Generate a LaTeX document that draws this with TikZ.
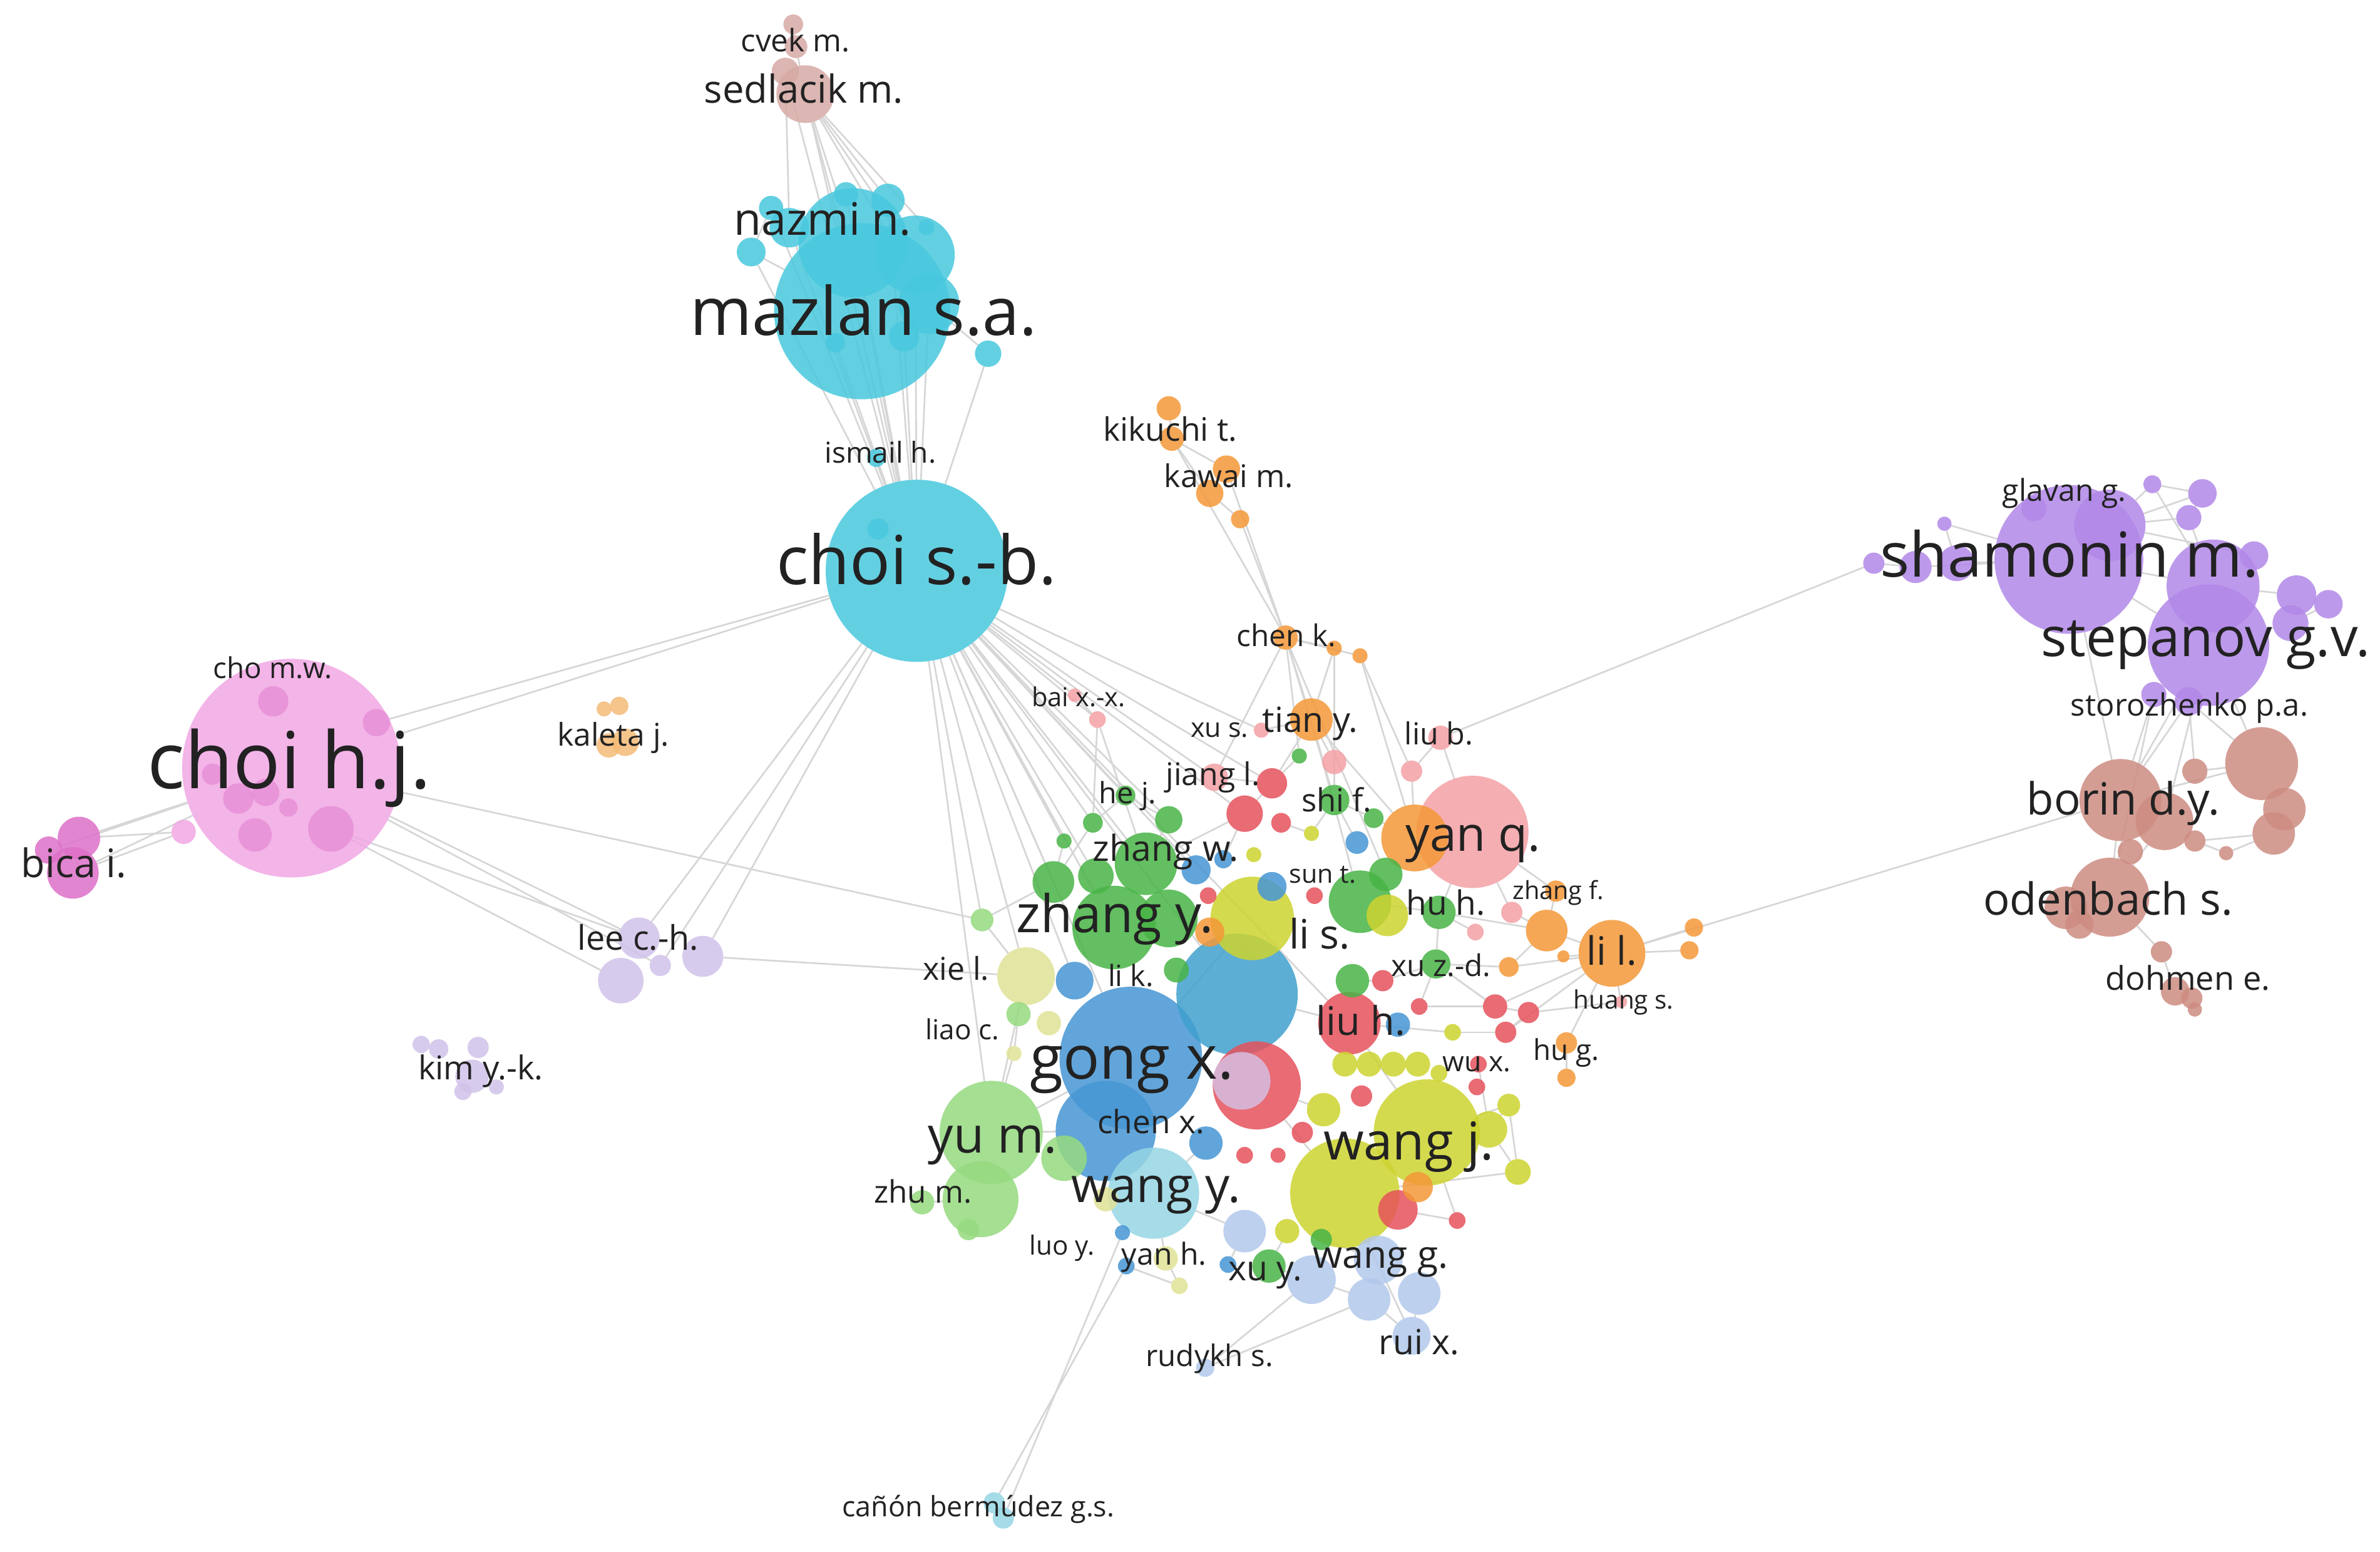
\documentclass[tikz,border=0pt]{standalone}
\usepackage{fontspec}
\setmainfont{Open Sans}
\pgfdeclarelayer{background}
\pgfsetlayers{background,main}
\definecolor{cyanC}{RGB}{72,200,222}
\definecolor{pinkC}{RGB}{241,168,228}
\definecolor{magC}{RGB}{222,112,200}
\definecolor{lavC}{RGB}{208,194,234}
\definecolor{kalC}{RGB}{244,188,120}
\definecolor{orangeC}{RGB}{244,152,56}
\definecolor{salmonC}{RGB}{244,160,165}
\definecolor{redC}{RGB}{230,82,92}
\definecolor{greenC}{RGB}{72,180,70}
\definecolor{lgreenC}{RGB}{150,218,128}
\definecolor{yellowC}{RGB}{205,212,48}
\definecolor{pyellowC}{RGB}{224,226,150}
\definecolor{blueC}{RGB}{70,150,212}
\definecolor{tealC}{RGB}{64,160,205}
\definecolor{lblueC}{RGB}{178,200,236}
\definecolor{lcyanC}{RGB}{150,214,228}
\definecolor{purpleC}{RGB}{178,136,232}
\definecolor{brownC}{RGB}{205,140,130}
\definecolor{sedC}{RGB}{215,170,165}
\definecolor{plavC}{RGB}{215,190,225}
\definecolor{txtC}{RGB}{34,34,34}
\definecolor{edgeC}{RGB}{214,214,214}
\tikzset{
  bub/.style={circle,inner sep=0pt,outer sep=0pt,draw=none,fill opacity=0.85},
  subbub/.style={circle,inner sep=0pt,outer sep=0pt,draw=none,fill opacity=0.45},
  lab/.style={anchor=base,inner sep=0pt,text=txtC},
  edge/.style={draw=edgeC,line width=1.1pt}
}
\newcommand\Bub[5]{\node[bub,fill=#5,minimum size={2*#4pt}] (#1) at (#2,#3) {};}
\newcommand\SBub[5]{\node[subbub,fill=#5,minimum size={2*#4pt}] (#1) at (#2,#3) {};}
\newcommand\Lbl[5]{\node[lab,font=\fontsize{#4}{#4}\selectfont] (#1) at (#2,{#3+0.268*#4}) {#5};}
\begin{document}
\begin{tikzpicture}[x=1pt,y=-1pt]
\useasboundingbox (0,0) rectangle (1568,1022);
\begin{pgfonlayer}{background}
\fill[white] (0,0) rectangle (1568,1022);
\end{pgfonlayer}
% ---------- top cluster
\Bub{cv1}{522.6}{16}{6.5}{sedC}
\Bub{cv2}{524.4}{30.8}{7.5}{sedC}
\Bub{sd2}{517.4}{47}{9}{sedC}
\Bub{sd1}{530.5}{62}{19}{sedC}
\Bub{mz}{568}{205}{58}{cyanC}
\Bub{mz2}{562}{160}{36}{cyanC}
\Bub{mz3}{603}{168}{26}{cyanC}
\Bub{mz4}{612}{200}{20}{cyanC}
\Bub{mz5}{520}{150}{13}{cyanC}
\Bub{mz6}{585}{132}{11}{cyanC}
\Bub{mz7}{494.9}{166}{9.5}{cyanC}
\Bub{mz8}{651}{233}{8.7}{cyanC}
\Bub{mz9}{610.3}{149.8}{5.2}{cyanC}
\Bub{mz10}{557.4}{128}{8}{cyanC}
\Bub{mz11}{508}{137}{8}{cyanC}
\Bub{mz12}{550.4}{225.7}{6.5}{cyanC}
\Bub{mz13}{595.6}{221.6}{10}{cyanC}
\Bub{is1}{577.3}{301.6}{6}{cyanC}
\Bub{cs}{604}{376}{60}{cyanC}
\Bub{cs2}{578.5}{348.5}{7}{cyanC}
% ---------- choi h.j.
\Bub{ch}{192}{506}{72}{pinkC}
\SBub{ch2}{180}{462}{10}{magC}
\SBub{ch3}{248}{476}{9}{magC}
\SBub{ch4}{140}{510}{7}{magC}
\SBub{ch5}{157}{526}{10}{magC}
\SBub{ch6}{175}{522}{9}{magC}
\SBub{ch7}{168}{550}{11}{magC}
\SBub{ch8}{218}{546}{15}{magC}
\SBub{ch9}{190}{532}{6}{magC}
\Bub{ch10}{121}{548}{8}{pinkC}
\Bub{bi1}{52}{552}{14}{magC}
\Bub{bi2}{48}{575}{17}{magC}
\Bub{bi3}{32}{560}{9}{magC}
\Bub{ka1}{408}{465}{6}{kalC}
\Bub{ka2}{398}{467}{5}{kalC}
\Bub{ka3}{412}{489}{9}{kalC}
\Bub{ka4}{401}{491}{8}{kalC}
\Bub{le1}{421}{618}{13.6}{lavC}
\Bub{le2}{409}{646}{15}{lavC}
\Bub{le3}{435}{636}{7}{lavC}
\Bub{le4}{463}{630}{13.5}{lavC}
\Bub{km1}{277.5}{688}{5.7}{lavC}
\Bub{km2}{289}{691}{6.4}{lavC}
\Bub{km3}{315}{690}{7}{lavC}
\Bub{km4}{311}{709}{11}{lavC}
\Bub{km5}{305}{719}{5.7}{lavC}
\Bub{km6}{327}{716}{5}{lavC}
% ---------- kikuchi chain
\Bub{ki1}{770}{269}{8}{orangeC}
\Bub{ki2}{772}{289}{8}{orangeC}
\Bub{kw1}{808}{309}{9}{orangeC}
\Bub{kw2}{797}{325}{9}{orangeC}
\Bub{kw3}{817}{342}{6}{orangeC}
\Bub{ck1}{847}{420}{8}{orangeC}
\Bub{ck2}{879}{427}{5}{orangeC}
\Bub{ck3}{896}{432}{5}{orangeC}
\Bub{ty}{864}{474}{14}{orangeC}
\Bub{bx1}{708}{458}{4.5}{salmonC}
\Bub{bx2}{723}{474}{5.5}{salmonC}
\Bub{xs}{831}{481}{5}{salmonC}
\Bub{lb}{949}{486}{8}{salmonC}
% ---------- centre, big first
\Bub{yq}{970}{548}{37}{salmonC}
\Bub{yq2}{932}{552}{22}{orangeC}
\Bub{gx}{745}{697}{47}{blueC}
\Bub{bt}{815}{655}{40}{tealC}
\Bub{wj1}{886}{786}{36}{yellowC}
\Bub{wj}{940}{746}{35}{yellowC}
\Bub{ym}{653}{746}{34}{lgreenC}
\Bub{gx2}{728.5}{745}{33}{blueC}
\Bub{wy}{760}{786}{30}{lcyanC}
\Bub{rr}{828}{715}{29}{redC}
\Bub{lv}{818}{712}{19}{plavC}
\Bub{zy}{734}{611}{27.5}{greenC}
\Bub{yb}{825}{605}{27.5}{yellowC}
\Bub{ym2}{646}{790}{25}{lgreenC}
\Bub{ll}{1062}{628}{22}{orangeC}
\Bub{zy3}{755}{569}{20.6}{greenC}
\Bub{g10}{896}{594}{20.6}{greenC}
\Bub{lh}{889}{674}{20.6}{redC}
\Bub{zy4}{770}{605}{19}{greenC}
\Bub{py1}{676}{643}{19}{pyellowC}
\Bub{wg1}{908}{830}{16}{lblueC}
\Bub{wg2}{864}{843}{16}{lblueC}
\Bub{ym4}{701}{763}{15}{lgreenC}
\Bub{wg3}{902}{856}{14}{lblueC}
\Bub{wg4}{935}{852}{14}{lblueC}
\Bub{wg5}{820}{811}{14}{lblueC}
\Bub{zy1}{694}{581}{13.7}{greenC}
\Bub{y7}{914}{603}{13.7}{yellowC}
\Bub{zf2}{1019}{613}{13.7}{orangeC}
\Bub{r21}{921}{797}{13}{redC}
\Bub{rx}{930}{880}{12.5}{lblueC}
\Bub{b6}{708}{646}{12.4}{blueC}
\Bub{r2}{820}{536}{12}{redC}
\Bub{wj2}{981}{744}{12}{yellowC}
\Bub{zy2}{722}{577}{11.7}{greenC}
\Bub{g9}{913}{576}{11}{greenC}
\Bub{hh}{948}{601}{11}{greenC}
\Bub{g11}{891}{646}{11}{greenC}
\Bub{b12}{794.5}{753}{11}{blueC}
\Bub{y16}{872}{731}{11}{yellowC}
\Bub{xy}{836}{834}{11}{greenC}
\Bub{r1}{838}{516}{10}{redC}
\Bub{sf}{879}{527}{10}{greenC}
\Bub{o6}{934}{782}{10}{orangeC}
\Bub{b3}{788}{573}{9.6}{blueC}
\Bub{o1}{797}{614}{9.6}{orangeC}
\Bub{b5}{838}{584}{9.6}{blueC}
\Bub{xz}{946}{635}{9.6}{greenC}
\Bub{jl}{800}{512}{9}{salmonC}
\Bub{g2}{770}{540}{9}{greenC}
\Bub{y15}{1000}{772}{8.5}{yellowC}
\Bub{g6}{775}{639}{8.2}{greenC}
\Bub{y9}{886}{701}{8.2}{yellowC}
\Bub{y10}{902}{701}{8.2}{yellowC}
\Bub{y11}{918}{701}{8.2}{yellowC}
\Bub{y12}{934}{701}{8.2}{yellowC}
\Bub{p2}{879}{502}{8}{salmonC}
\Bub{lg1}{671}{668}{8}{lgreenC}
\Bub{y4}{691}{674}{8}{pyellowC}
\Bub{r11}{985}{663}{8}{redC}
\Bub{b9}{921}{675}{8}{blueC}
\Bub{zm}{607.5}{792}{8}{lgreenC}
\Bub{py4}{768}{829}{8}{pyellowC}
\Bub{py5}{728.5}{790}{8}{pyellowC}
\Bub{y18}{848}{811}{8}{yellowC}
\Bub{b1}{894}{555}{7.5}{blueC}
\Bub{g5}{647}{606}{7.5}{lgreenC}
\Bub{y14}{994}{728}{7.5}{yellowC}
\Bub{p3}{930}{508}{7}{salmonC}
\Bub{pk1}{996}{601}{7}{salmonC}
\Bub{zf1}{1025}{587}{7}{orangeC}
\Bub{r9}{911}{646}{7}{redC}
\Bub{r12}{1007}{667}{7}{redC}
\Bub{r13}{992}{680}{7}{redC}
\Bub{hg1}{1032}{687}{7}{orangeC}
\Bub{ym3}{638}{810}{7}{lgreenC}
\Bub{r17}{858}{746}{7}{redC}
\Bub{r18}{897}{722}{7}{redC}
\Bub{g12}{870.5}{816.5}{7}{greenC}
\Bub{hj}{741.5}{524}{6.5}{greenC}
\Bub{g3}{720}{542}{6.5}{greenC}
\Bub{r3}{844}{542}{6.5}{redC}
\Bub{g1}{905}{539}{6.5}{greenC}
\Bub{o2}{994}{637}{6.5}{orangeC}
\Bub{b2}{806}{566}{6}{blueC}
\Bub{o3}{1116}{611}{6}{orangeC}
\Bub{o4}{1113}{626}{6}{orangeC}
\Bub{hg2}{1032}{710}{6}{orangeC}
\Bub{r4}{796}{590}{5.5}{redC}
\Bub{pk2}{972}{614}{5.5}{salmonC}
\Bub{r10}{935}{663}{5.5}{redC}
\Bub{y8}{957}{680}{5.5}{yellowC}
\Bub{r14}{974}{701}{5.5}{redC}
\Bub{y13}{948}{707}{5.5}{yellowC}
\Bub{r8}{866}{590}{5.5}{redC}
\Bub{r15}{820}{761}{5.5}{redC}
\Bub{r19}{973}{716}{5.5}{redC}
\Bub{r20}{960}{804}{5.5}{redC}
\Bub{b11}{742}{834}{5.5}{blueC}
\Bub{py3}{777}{847}{5.5}{pyellowC}
\Bub{b13}{809}{833}{5.5}{blueC}
\Bub{p1}{856}{498}{5}{greenC}
\Bub{g4}{701}{554}{5}{greenC}
\Bub{y1}{864}{549}{5}{yellowC}
\Bub{y2}{826}{563}{5}{yellowC}
\Bub{py2}{668}{694}{5}{pyellowC}
\Bub{r16}{842}{761}{5}{redC}
\Bub{b10}{739.5}{812}{5}{blueC}
\Bub{o5}{1030}{630}{4}{orangeC}
\Bub{hs}{1068}{660}{4}{salmonC}
\Bub{rk}{794}{901}{6}{lblueC}
\Bub{cb1}{655}{990}{7}{lcyanC}
\Bub{cb2}{661}{1000}{7}{lcyanC}
% ---------- right cluster
\Bub{sm}{1363}{368.5}{49}{purpleC}
\Bub{sv}{1455}{425}{40}{purpleC}
\Bub{sv2}{1458}{386}{30.6}{purpleC}
\Bub{sm2}{1390}{346}{23.5}{purpleC}
\Bub{pp9}{1513}{392}{13}{purpleC}
\Bub{pp5}{1289}{371}{11.8}{purpleC}
\Bub{pp11}{1509}{410.5}{11.8}{purpleC}
\Bub{pp6}{1262}{373.5}{10.6}{purpleC}
\Bub{pp2}{1451}{325}{9.4}{purpleC}
\Bub{pp8}{1485}{366}{9.4}{purpleC}
\Bub{pp10}{1534}{398}{9.4}{purpleC}
\Bub{pp13}{1442}{462}{9.4}{purpleC}
\Bub{pgl}{1340}{335}{8.3}{purpleC}
\Bub{pp3}{1442}{341}{8.3}{purpleC}
\Bub{pp12}{1419}{457.5}{8.3}{purpleC}
\Bub{pp7}{1234.5}{371}{7}{purpleC}
\Bub{pp1}{1418}{319}{5.9}{purpleC}
\Bub{pp4}{1281}{345}{4.7}{purpleC}
\Bub{bd}{1397}{527}{27}{brownC}
\Bub{os}{1390}{591}{26}{brownC}
\Bub{bb1}{1490}{503}{24}{brownC}
\Bub{bd2}{1426}{541}{19}{brownC}
\Bub{bb3}{1505}{533}{14}{brownC}
\Bub{bb4}{1498}{549}{14}{brownC}
\Bub{os2}{1361}{598}{14}{brownC}
\Bub{os3}{1370}{609}{9.4}{brownC}
\Bub{de2}{1433}{653}{9.4}{brownC}
\Bub{bb2}{1446}{508}{8.3}{brownC}
\Bub{bb6}{1403.5}{561}{8.3}{brownC}
\Bub{bb5}{1446}{554}{7}{brownC}
\Bub{de1}{1424}{627}{7}{brownC}
\Bub{de3}{1444}{657.5}{7}{brownC}
\Bub{bb7}{1466.6}{562}{4.7}{brownC}
\Bub{de4}{1446}{665}{4.7}{brownC}
% ---------- edges
\begin{pgfonlayer}{background}
\foreach \a/\b in {cv1/cv2,cv2/sd1,sd2/sd1,sd1/mz,sd1/mz2,sd1/mz3,sd1/mz6,sd1/mz9,sd1/mz4,sd2/mz5,sd1/cs,sd2/cs,
  mz/cs,mz2/cs,mz3/cs,mz4/cs,mz5/cs,mz7/cs,mz8/cs,mz11/cs,mz12/cs,mz13/cs,mz7/mz,mz8/mz4,mz9/mz3,mz11/mz7,is1/cs,mz6/cs,mz10/cs,
  ch/cs,ch3/cs,ch/le1,ch/le3,ch8/le1,ch/g5,ch8/le2,le1/cs,le3/cs,le4/cs,le4/py1,bi1/ch,bi2/ch,bi1/ch10,bi2/ch10,bi3/ch,
  cs/zy1,cs/zy,cs/py1,cs/gx,cs/b6,cs/g3,cs/hj,cs/bx1,cs/bx2,cs/r2,cs/jl,cs/g2,cs/zy3,cs/ym,cs/b3,cs/r1,cs/lh,cs/g5,cs/xs,cs/g4,cs/zy2,cs/bt,
  ki1/ki2,ki2/kw1,ki2/kw2,kw1/kw2,kw2/kw3,kw1/ck1,kw3/ck1,ki2/ck1,ck1/ck2,ck1/ck3,ck1/ty,ck1/p1,ck1/jl,ck1/sf,ck2/ty,ck3/yq2,ck1/g9,ck3/p3,ck2/sf,
  ty/xs,ty/p2,ty/sf,ty/r1,ty/yq2,ty/g10,lb/pp7,lb/yq,ll/bd,bx1/bx2,bx2/g3,bx2/zy3,
  hj/g2,hj/g3,g3/zy1,g4/zy1,g2/zy3,jl/r1,r1/r2,r2/zy3,r2/b2,p1/r1,p2/sf,sf/g1,g1/yq2,b1/sf,y1/sf,y1/r3,p3/yq2,p3/lb,g9/yq2,g10/g9,g10/hh,hh/yq,hh/pk2,
  pk1/yq,pk1/zf2,zf2/ll,zf2/o2,o2/ll,ll/o3,ll/o4,ll/o5,ll/hg1,hg1/hg2,r11/r12,r12/r13,r11/ll,r13/ll,r11/xz,xz/hh,xz/o2,g11/lh,r9/xz,r10/r11,y8/r13,
  r14/wj2,y13/wj,wj/wj2,wj2/y14,wj2/y15,y15/wj1,wj1/rx,wj/r20,wj1/wg1,wg1/wg3,wg3/rx,wg4/rx,wg2/wg3,wg5/wy,xy/wg2,py4/wy,py3/py4,b11/py3,
  gx/ym,gx2/ym,ym/py1,py1/g5,lg1/py2,py2/ym,zm/ym2,g5/zy1,gx/yb,yb/bt,bt/lh,lh/wj,rr/wj1,r21/wj1,r21/r20,o6/wj,y16/rr,b12/wy,hs/ll,hs/r12,y18/xy,b13/wg5,g12/wg1,
  cb1/b11,cb2/b10,rk/wg2,rk/wg3,y14/y15,y14/wj,zf1/zf2,zf1/yq,hh/zf2,xz/r11,r9/g11,y8/lh,r10/xz,
  sm/sv,sm/sv2,sm/sm2,sm/pgl,sm/pp4,sm/pp5,sm/pp6,pp6/pp7,pp4/pp5,sm2/pp1,sm2/pp2,sm2/pp3,pp1/pp2,pp2/pp3,pp3/sv2,pp1/sv2,sm2/pp8,pp8/sv2,sv2/pp9,pp9/pp10,pp9/pp11,pp11/sv,pp10/pp11,sv/pp12,sv/pp13,
  pp12/bd,pp13/bd,sv/bd,sv/bb1,sv/bd2,pp13/bb1,sm/bd,pp12/os,pp13/bb2,
  bd/os,bd2/os,bb1/bb3,bb3/bb4,bb4/bb7,bb7/bb5,os/de1,de1/de2,de2/de3,de3/de4,bd/bb6,os/bb6,bb1/bd,bb2/bb1,bb5/bd2,bb4/bb5,os/os2,os2/os3}
  \draw[edge] (\a) -- (\b);
\end{pgfonlayer}
% ---------- labels
\Lbl{tcv}{524}{28.7}{20.4}{cvek m.}
\Lbl{tsd}{529.6}{61}{25.4}{sedlacik m.}
\Lbl{tnz}{542}{147}{29.5}{nazmi n.}
\Lbl{tmz}{569}{209}{44}{mazlan s.a.}
\Lbl{tis}{580}{300}{19}{ismail h.}
\Lbl{tcs}{603.8}{373}{44.5}{choi s.-b.}
\Lbl{tch}{190.7}{505.5}{51.8}{choi h.j.}
\Lbl{tcm}{179.7}{441.6}{18.9}{cho m.w.}
\Lbl{tbi}{48.6}{571}{25.9}{bica i.}
\Lbl{tka}{404}{486}{20.6}{kaleta j.}
\Lbl{tle}{420.5}{620}{22.3}{lee c.-h.}
\Lbl{tkm}{316.7}{705.5}{21.6}{kim y.-k.}
\Lbl{tki}{771}{285}{21.3}{kikuchi t.}
\Lbl{tkw}{809.5}{315.5}{20.6}{kawai m.}
\Lbl{tck}{847.4}{420.5}{19.7}{chen k.}
\Lbl{tbx}{710.5}{460.8}{17.2}{bai x.-x.}
\Lbl{tty}{863.2}{476}{22.8}{tian y.}
\Lbl{txs}{803.5}{481}{17.7}{xu s.}
\Lbl{tlb}{948}{485.4}{20}{liu b.}
\Lbl{tjl}{799}{512}{20.6}{jiang l.}
\Lbl{thj}{743}{524}{19.3}{he j.}
\Lbl{tsf}{880.6}{529}{21}{shi f.}
\Lbl{tyq}{970.6}{552}{31.6}{yan q.}
\Lbl{tzw}{768}{561}{23.6}{zhang w.}
\Lbl{tst}{871.5}{577}{17}{sun t.}
\Lbl{tzf}{1026.6}{588}{16.4}{zhang f.}
\Lbl{tzy}{734.4}{605}{34.3}{zhang y.}
\Lbl{thh}{952.5}{597}{22}{hu h.}
\Lbl{tls}{869.3}{618}{26.7}{li s.}
\Lbl{tll}{1061.8}{629}{25.8}{li l.}
\Lbl{txl}{629.8}{640}{20.7}{xie l.}
\Lbl{tlk}{745}{644.4}{19.3}{li k.}
\Lbl{txz}{949.4}{638}{19.7}{xu z.-d.}
\Lbl{ths}{1069.7}{660}{16.7}{huang s.}
\Lbl{tlh}{896.5}{675}{26}{liu h.}
\Lbl{tlc}{634}{680}{18.2}{liao c.}
\Lbl{thg}{1032}{693.5}{18.9}{hu g.}
\Lbl{tgx}{745.7}{700}{40}{gong x.}
\Lbl{twx}{972.8}{701}{18.4}{wu x.}
\Lbl{tcx}{758.3}{741}{21.2}{chen x.}
\Lbl{tym}{654}{750.5}{33}{yu m.}
\Lbl{twj}{928}{754.6}{34.3}{wang j.}
\Lbl{tzm}{608}{787}{20.4}{zhu m.}
\Lbl{twy}{761.8}{783.5}{32}{wang y.}
\Lbl{tly}{699.7}{822}{17.4}{luo y.}
\Lbl{tyh}{767}{828}{19.9}{yan h.}
\Lbl{txy}{833.5}{837.4}{22.8}{xu y.}
\Lbl{twg}{909.6}{828.5}{25}{wang g.}
\Lbl{trx}{935}{886}{22.8}{rui x.}
\Lbl{trk}{796.8}{895}{19.6}{rudykh s.}
\Lbl{tcb}{644.5}{994}{18.5}{cañón bermúdez g.s.}
\Lbl{tgl}{1360}{324.6}{19.9}{glavan g.}
\Lbl{tsm}{1363.5}{369}{40.8}{shamonin m.}
\Lbl{tsv}{1453}{423}{35.8}{stepanov g.v.}
\Lbl{tsp}{1442.4}{466}{20.2}{storozhenko p.a.}
\Lbl{tbd}{1399}{529}{29.2}{borin d.y.}
\Lbl{tos}{1388.8}{595}{29.1}{odenbach s.}
\Lbl{tde}{1441.3}{646.4}{21.6}{dohmen e.}
\end{tikzpicture}
\end{document}
